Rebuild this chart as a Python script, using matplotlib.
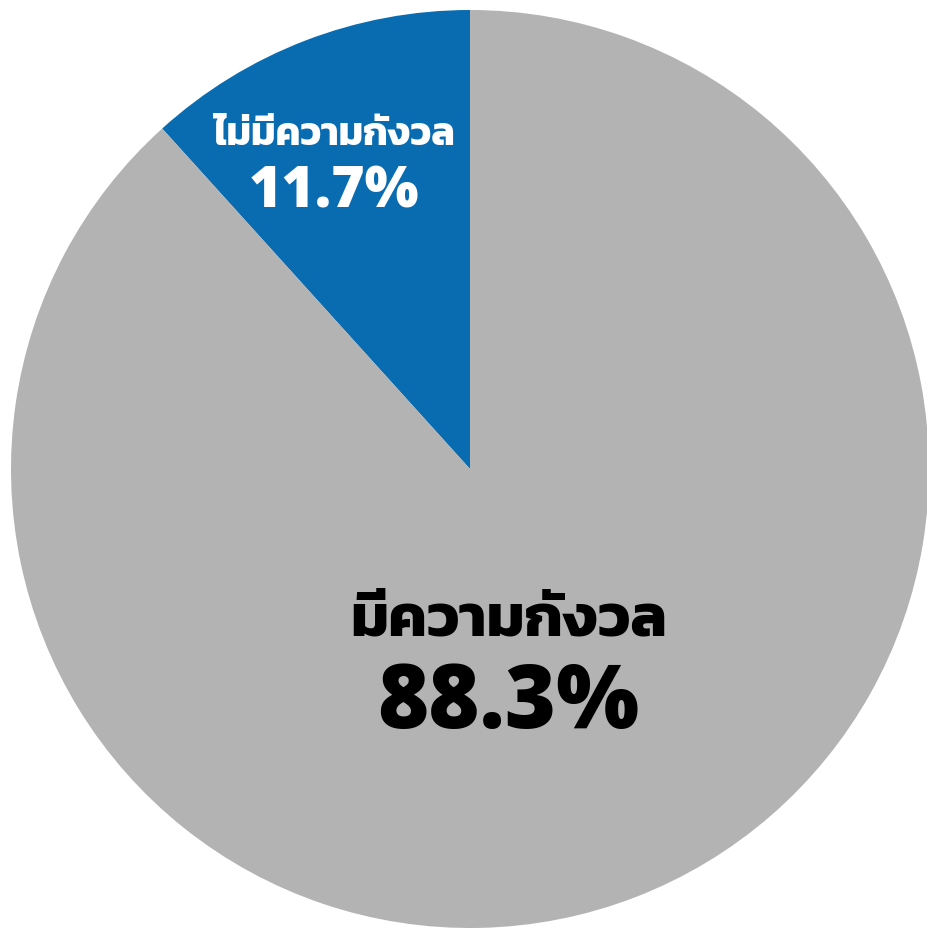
import matplotlib
matplotlib.use("Agg")
import matplotlib.pyplot as plt
from matplotlib import font_manager
from fontTools.ttLib import TTFont

# chart data
labels = ["ไม่มีความกังวล", "มีความกังวล"]
values = [11.7, 88.3]
colors = ["#0a6cb0", "#b3b3b3"]
pct_labels = ["11.7%", "88.3%"]

THAI_FONTS = ["Kanit-Bold", "Kanit-SemiBold", "Prompt-SemiBold", "IBMPlexSansThai-Bold"]
NUM_FONTS = ["OpenSans-ExtraBold", "OpenSans-Bold", "Inter-ExtraBold", "Inter-Bold",
             "LiberationSans-Bold"]


def has_thai(path):
    try:
        cmap = TTFont(path, fontNumber=0, lazy=True).getBestCmap()
    except Exception:
        return False
    return bool(cmap) and 0x0E01 in cmap


def pick(paths, names):
    for pref in names:
        for p in paths:
            if p.split("/")[-1].startswith(pref + "."):
                return p
    return None


system_fonts = font_manager.findSystemFonts()
thai_path = pick(system_fonts, THAI_FONTS)
if thai_path is None:
    thai_path = next((p for p in system_fonts if has_thai(p)), None)
num_path = pick(system_fonts, NUM_FONTS)

if thai_path:
    fp = font_manager.FontProperties(fname=thai_path)
else:
    fp = font_manager.FontProperties(family="DejaVu Sans", weight="bold")
if num_path:
    fp_num = font_manager.FontProperties(fname=num_path)
else:
    fp_num = font_manager.FontProperties(family="Liberation Sans", weight="bold")

W, H = 927, 932
fig = plt.figure(figsize=(W / 100, H / 100), dpi=100)
fig.patch.set_facecolor("white")

# pie centre and radius in pixels
cx, cy, r = 470, 469, 459
ax = fig.add_axes([(cx - r) / W, (H - cy - r) / H, 2 * r / W, 2 * r / H])
ax.pie(values, colors=colors, startangle=90, counterclock=True,
       radius=1, wedgeprops=dict(linewidth=0))
ax.set_xlim(-1, 1)
ax.set_ylim(-1, 1)
ax.axis("off")


def px(x, y):
    # pixel position -> data coords of the pie axes
    return (x - cx) / r, (cy - y) / r


ax.text(*px(334, 145), labels[0], fontproperties=fp, fontsize=28,
        color="white", ha="center", va="baseline")
ax.text(*px(334, 208), pct_labels[0], fontproperties=fp_num, fontsize=41,
        color="white", ha="center", va="baseline")
ax.text(*px(509, 635), labels[1], fontproperties=fp, fontsize=43.5,
        color="black", ha="center", va="baseline")
ax.text(*px(508, 728), pct_labels[1], fontproperties=fp_num, fontsize=63,
        color="black", ha="center", va="baseline")

fig.savefig("out.png", dpi=100, facecolor="white")
